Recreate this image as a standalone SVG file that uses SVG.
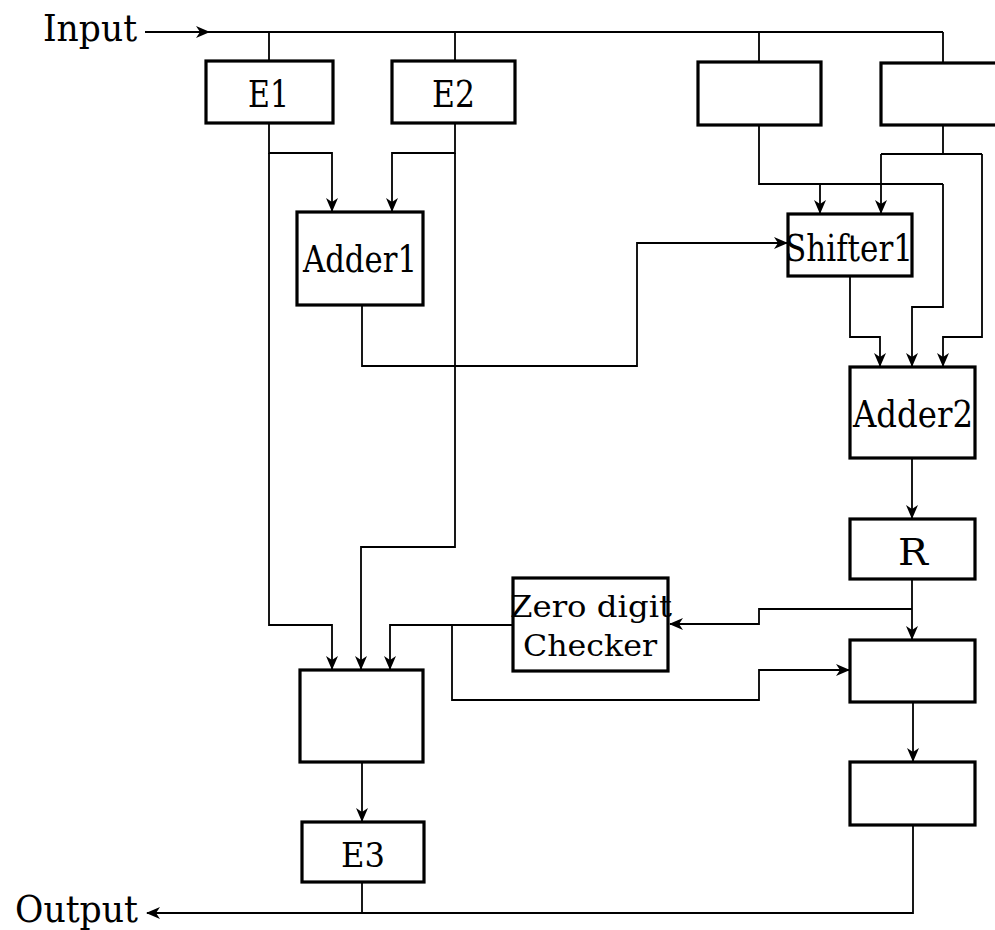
<svg xmlns="http://www.w3.org/2000/svg" width="995" height="930" viewBox="0 0 995 930">
<style>
.box{fill:#fff;stroke:#000;stroke-width:3.2}
.w{fill:none;stroke:#000;stroke-width:1.8}
.t{font-family:"DejaVu Serif","Liberation Serif",serif;font-size:38px;fill:#000}
.s{font-size:30px}
.e3{font-size:34px}
</style>
<defs>
<marker id="ah" viewBox="0 0 14 12" refX="13" refY="6" markerWidth="14" markerHeight="12" markerUnits="userSpaceOnUse" orient="auto">
<path d="M0,0 L14,6 L0,12 L4,6 z" fill="#000"/>
</marker>
</defs>
<rect width="995" height="930" fill="#fff"/>
<g id="connectors">
<path class="w" d="M145,32 H209" marker-end="url(#ah)"/>
<path class="w" d="M205,32 H943"/>
<path class="w" d="M269,32 V60 M455,32 V60 M759,32 V62 M943,32 V62"/>
<path class="w" d="M269,123 V153 H332 V211" marker-end="url(#ah)"/>
<path class="w" d="M269,153 V625 H332 V669" marker-end="url(#ah)"/>
<path class="w" d="M455,123 V153 H392 V211" marker-end="url(#ah)"/>
<path class="w" d="M455,153 V547 H361 V669" marker-end="url(#ah)"/>
<path class="w" d="M362,305 V366 H637 V243 H787" marker-end="url(#ah)"/>
<path class="w" d="M759,125 V184 H943"/>
<path class="w" d="M820,184 V213" marker-end="url(#ah)"/>
<path class="w" d="M943,184 V307 H912 V366" marker-end="url(#ah)"/>
<path class="w" d="M943,125 V154 M881,154 H982"/>
<path class="w" d="M881,154 V213" marker-end="url(#ah)"/>
<path class="w" d="M982,154 V337 H943 V366" marker-end="url(#ah)"/>
<path class="w" d="M850,276 V337 H880 V366" marker-end="url(#ah)"/>
<path class="w" d="M912,458 V518" marker-end="url(#ah)"/>
<path class="w" d="M912,579 V639" marker-end="url(#ah)"/>
<path class="w" d="M912,609 H759 V624 H670" marker-end="url(#ah)"/>
<path class="w" d="M513,625 H390 V669" marker-end="url(#ah)"/>
<path class="w" d="M452,625 V700 H759 V670 H849" marker-end="url(#ah)"/>
<path class="w" d="M913,702 V761" marker-end="url(#ah)"/>
<path class="w" d="M362,762 V821" marker-end="url(#ah)"/>
<path class="w" d="M913,825 V913 H147" marker-end="url(#ah)"/>
<path class="w" d="M362,882 V913"/>
</g>
<g id="input"><text class="t" x="43" y="41" textLength="94" lengthAdjust="spacingAndGlyphs">Input</text></g>
<g id="output"><text class="t" x="15" y="922" textLength="123" lengthAdjust="spacingAndGlyphs">Output</text></g>
<g id="E1"><rect class="box" x="206" y="61" width="127" height="62"/><text class="t" x="248" y="107" textLength="41" lengthAdjust="spacingAndGlyphs">E1</text></g>
<g id="E2"><rect class="box" x="392" y="61" width="123" height="62"/><text class="t" x="432" y="107" textLength="43" lengthAdjust="spacingAndGlyphs">E2</text></g>
<g id="box3"><rect class="box" x="698" y="62" width="123" height="63"/></g>
<g id="box4"><rect class="box" x="881" y="63" width="130" height="62"/></g>
<g id="Adder1"><rect class="box" x="297" y="212" width="126" height="93"/><text class="t" x="303" y="272" textLength="114" lengthAdjust="spacingAndGlyphs">Adder1</text></g>
<g id="Shifter1"><rect class="box" x="788" y="214" width="124" height="62"/><text class="t" x="785" y="261" textLength="128" lengthAdjust="spacingAndGlyphs">Shifter1</text></g>
<g id="Adder2"><rect class="box" x="850" y="367" width="125" height="91"/><text class="t" x="853" y="427" textLength="120" lengthAdjust="spacingAndGlyphs">Adder2</text></g>
<g id="R"><rect class="box" x="850" y="519" width="125" height="60"/><text class="t" x="898" y="565" textLength="30" lengthAdjust="spacingAndGlyphs">R</text></g>
<g id="ZeroDigitChecker"><rect class="box" x="513" y="578" width="155" height="93"/><text class="t s" x="510" y="617" textLength="162" lengthAdjust="spacingAndGlyphs">Zero digit</text><text class="t s" x="523" y="656" textLength="134" lengthAdjust="spacingAndGlyphs">Checker</text></g>
<g id="box5"><rect class="box" x="850" y="640" width="125" height="62"/></g>
<g id="box6"><rect class="box" x="300" y="670" width="123" height="92"/></g>
<g id="box7"><rect class="box" x="850" y="762" width="125" height="63"/></g>
<g id="E3"><rect class="box" x="302" y="822" width="122" height="60"/><text class="t e3" x="341" y="867" textLength="44" lengthAdjust="spacingAndGlyphs">E3</text></g>
</svg>
